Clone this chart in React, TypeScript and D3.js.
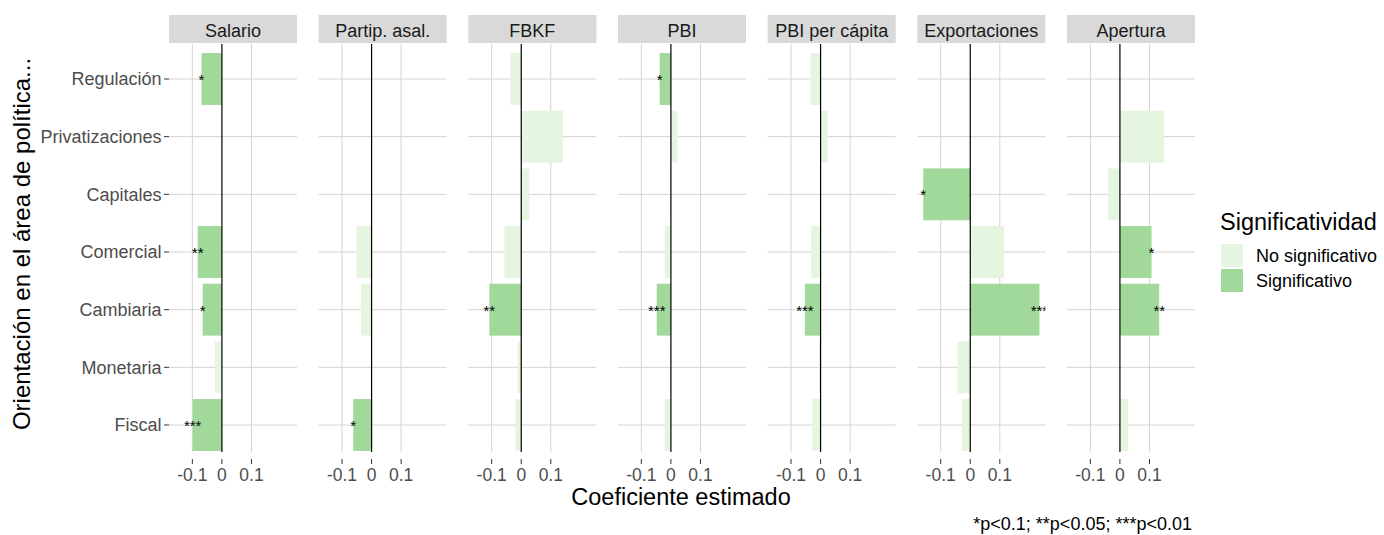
import React from "react";
import * as d3 from "d3";

const categories = ["Regulación", "Privatizaciones", "Capitales", "Comercial", "Cambiaria", "Monetaria", "Fiscal"];
const facets = ["Salario", "Partip. asal.", "FBKF", "PBI", "PBI per cápita", "Exportaciones", "Apertura"];

const salario = [-0.069, null, null, -0.082, -0.065, -0.024, -0.099];
const salarioStars = ["*", "", "", "**", "*", "", "***"];
const partip = [null, null, null, -0.051, -0.036, null, -0.062];
const partipStars = ["", "", "", "", "", "", "*"];
const fbkf = [-0.037, 0.141, 0.027, -0.057, -0.108, -0.012, -0.02];
const fbkfStars = ["", "", "", "", "**", "", ""];
const pbi = [-0.038, 0.022, -0.003, -0.021, -0.048, -0.003, -0.021];
const pbiStars = ["*", "", "", "", "***", "", ""];
const pbiPc = [-0.034, 0.023, null, -0.032, -0.053, -0.005, -0.028];
const pbiPcStars = ["", "", "", "", "***", "", ""];
const exportaciones = [null, null, -0.159, 0.115, 0.234, -0.043, -0.028];
const exportacionesStars = ["", "", "*", "", "***", "", ""];
const apertura = [null, 0.15, -0.04, 0.107, 0.133, null, 0.028];
const aperturaStars = ["", "", "", "*", "**", "", ""];

const xTicks = [-0.1, 0, 0.1];
const xTickLabels = ["-0.1", "0", "0.1"];
const legendLabels = ["No significativo", "Significativo"];

const seriesValues = [salario, partip, fbkf, pbi, pbiPc, exportaciones, apertura];
const seriesStars = [salarioStars, partipStars, fbkfStars, pbiStars, pbiPcStars, exportacionesStars, aperturaStars];

const FONT = "'Liberation Sans', Arial, sans-serif";
const COL_NS = "#e5f5e0";
const COL_S = "#a1d99b";
const GRID = "#d4d4d4";

export default function App() {
  const W = 1384, H = 535;
  const panelTop = 44, gridBottom = 452, panelBottom = 459;
  const stripTop = 15, stripBottom = 43;

  const facetScale = d3.scaleBand<string>().domain(facets).range([169, 1195]).paddingInner(0.1448).paddingOuter(0);
  const pw = facetScale.bandwidth();
  const x = d3.scaleLinear().domain([-0.179, 0.254]).range([0, pw]);
  const y = d3.scalePoint<string>().domain(categories).range([44.4, 459.6]).padding(0.6);
  const bh = y.step() * 0.9;
  const yc = (c: string) => y(c) as number;

  return (
    <svg width={W} height={H} style={{ position: "absolute", left: 0, top: 0, background: "#fff" }} fontFamily={FONT}>
      <defs>
        {facets.map((f, i) => (
          <clipPath id={`clip${i}`} key={f}>
            <rect x={facetScale(f)} y={panelTop} width={pw} height={panelBottom - panelTop} />
          </clipPath>
        ))}
      </defs>
      {categories.map((c) => (
        <g key={c}>
          <text x={161.5} y={yc(c)} dy="0.35em" textAnchor="end" fontSize={18} fill="#4d4d4d">{c}</text>
          <line x1={164} x2={169} y1={yc(c)} y2={yc(c)} stroke="#333" strokeWidth={1} />
        </g>
      ))}
      {facets.map((f, i) => {
        const px = facetScale(f) as number;
        const vals = seriesValues[i];
        const stars = seriesStars[i];
        return (
          <g key={f}>
            <rect x={px} y={stripTop} width={pw} height={stripBottom - stripTop} fill="#d9d9d9" />
            <text x={px + pw / 2} y={36.5} textAnchor="middle" fontSize={18} fill="#1a1a1a">{f}</text>
            {categories.map((c) => (
              <line key={c} x1={px} x2={px + pw} y1={yc(c)} y2={yc(c)} stroke={GRID} strokeWidth={1} />
            ))}
            {xTicks.filter((t) => t !== 0).map((t) => (
              <line key={t} x1={px + x(t)} x2={px + x(t)} y1={panelTop} y2={gridBottom} stroke={GRID} strokeWidth={1} />
            ))}
            <g clipPath={`url(#clip${i})`}>
              {categories.map((c, j) => {
                const v = vals[j];
                if (v === null) return null;
                const sig = stars[j] !== "";
                const x0 = px + x(Math.min(0, v));
                const x1 = px + x(Math.max(0, v));
                return (
                  <rect key={c} x={x0} y={yc(c) - bh / 2} width={Math.max(0.5, x1 - x0)} height={bh} fill={sig ? COL_S : COL_NS} />
                );
              })}
              {categories.map((c, j) => {
                const v = vals[j];
                if (v === null || stars[j] === "") return null;
                return (
                  <text key={c} x={px + x(v)} y={yc(c) + 6} textAnchor="middle" fontSize={15} fill="#000">{stars[j]}</text>
                );
              })}
            </g>
            <line x1={px + x(0)} x2={px + x(0)} y1={panelTop} y2={gridBottom} stroke="#000" strokeWidth={1.2} />
            {xTicks.map((t, k) => (
              <g key={t}>
                <line x1={px + x(t)} x2={px + x(t)} y1={panelBottom} y2={464} stroke="#333" strokeWidth={1} />
                <text x={px + x(t)} y={481} textAnchor="middle" fontSize={17.5} fill="#4d4d4d">{xTickLabels[k]}</text>
              </g>
            ))}
          </g>
        );
      })}
      <text x={681} y={505} textAnchor="middle" fontSize={23.5} fill="#000">Coeficiente estimado</text>
      <text transform="translate(30,244) rotate(-90)" textAnchor="middle" fontSize={24} fill="#000">Orientación en el área de política...</text>
      <text x={1220} y={230} fontSize={23.5} fill="#000">Significatividad</text>
      {legendLabels.map((l, k) => (
        <g key={l}>
          <rect x={1221} y={244 + k * 25} width={22} height={23} fill={k === 0 ? COL_NS : COL_S} />
          <text x={1256} y={256 + k * 24.5} dy="0.35em" fontSize={18} fill="#000">{l}</text>
        </g>
      ))}
      <text x={1192} y={530} textAnchor="end" fontSize={18} fill="#000">*p&lt;0.1; **p&lt;0.05; ***p&lt;0.01</text>
    </svg>
  );
}
